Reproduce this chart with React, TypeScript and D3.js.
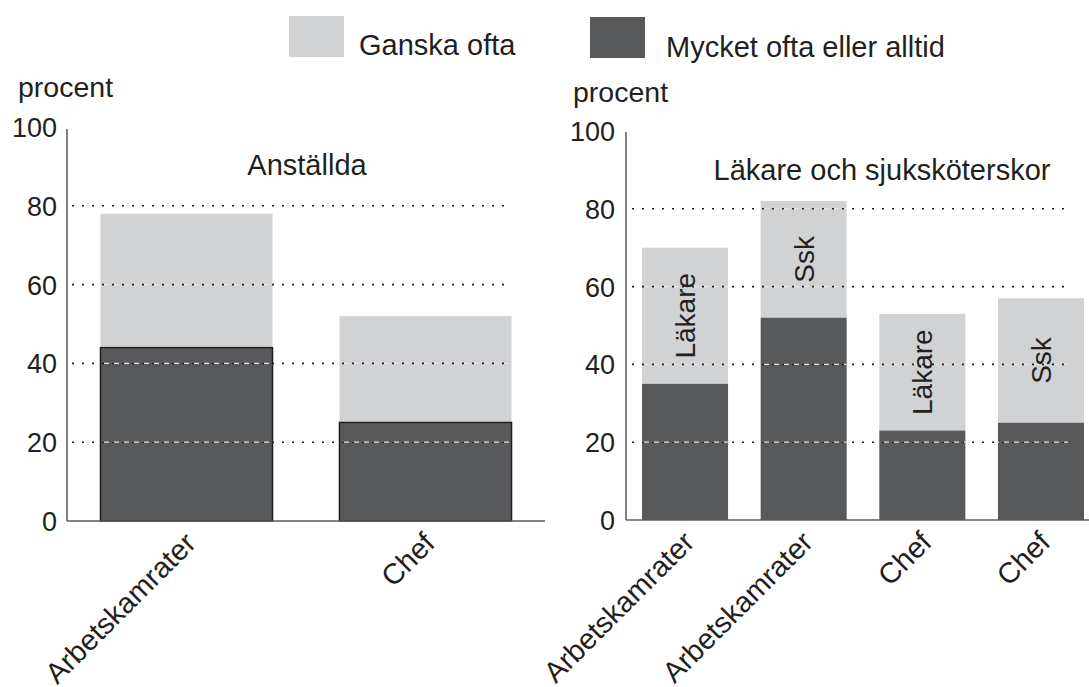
import React from "react";
import * as d3 from "d3";

// ---- Data ----
const leftTitle = "Anställda";
const rightTitle = "Läkare och sjuksköterskor";
const leftCategories = ["Arbetskamrater", "Chef"];
const leftMycket = [44, 25];
const leftGanska = [34, 27];

const rightCategories = ["Arbetskamrater", "Arbetskamrater", "Chef", "Chef"];
const rightGroups = ["Läkare", "Ssk", "Läkare", "Ssk"];
const rightMycket = [35, 52, 23, 25];
const rightGanska = [35, 30, 30, 32];

const yTicks = [0, 20, 40, 60, 80, 100];
const gridTicks = [20, 40, 60, 80];
const seriesNames = ["Ganska ofta", "Mycket ofta eller alltid"];

const LIGHT = "#d1d2d4";
const DARK = "#58595b";
const TEXT = "#231f20";
const AXIS = "#5a5a5a";
const FONT = "'Liberation Sans', Arial, Helvetica, sans-serif";

type PanelProps = {
  id: string;
  categories: string[];
  mycket: number[];
  ganska: number[];
  groups?: string[];
  xRange: [number, number];
  yRange: [number, number];
  paddingInner: number;
  paddingOuter: number;
  gridX: [number, number];
  tickX: number;
  procent: [number, number];
  title: string;
  titlePos: [number, number];
  outline: boolean;
  axisTop: number;
};

function Panel(p: PanelProps) {
  const idx = p.categories.map((_, i) => String(i));
  const x = d3
    .scaleBand<string>()
    .domain(idx)
    .range(p.xRange)
    .paddingInner(p.paddingInner)
    .paddingOuter(p.paddingOuter);
  const y = d3.scaleLinear().domain([0, 100]).range(p.yRange);
  const bw = x.bandwidth();
  const clipId = `bars-${p.id}`;
  return (
    <g>
      <defs>
        <clipPath id={clipId}>
          {idx.map((k, i) => (
            <rect
              key={k}
              x={x(k)!}
              y={y(p.mycket[i] + p.ganska[i])}
              width={bw}
              height={y(0) - y(p.mycket[i] + p.ganska[i])}
            />
          ))}
        </clipPath>
      </defs>
      {/* bars */}
      {idx.map((k, i) => (
        <g key={k}>
          <rect
            x={x(k)!}
            y={y(p.mycket[i] + p.ganska[i])}
            width={bw}
            height={y(p.mycket[i]) - y(p.mycket[i] + p.ganska[i])}
            fill={LIGHT}
          />
          <rect
            x={x(k)!}
            y={y(p.mycket[i])}
            width={bw}
            height={y(0) - y(p.mycket[i])}
            fill={DARK}
            stroke={p.outline ? TEXT : "none"}
            strokeWidth={p.outline ? 1.5 : 0}
          />
        </g>
      ))}
      {/* gridlines: light dashes over bars, dark dots everywhere */}
      <g clipPath={`url(#${clipId})`}>
        {gridTicks.map((t) => (
          <line
            key={t}
            x1={p.gridX[0]}
            x2={p.gridX[1]}
            y1={y(t)}
            y2={y(t)}
            stroke="#e4e4e4"
            strokeWidth={1.3}
            strokeDasharray="7,3"
          />
        ))}
      </g>
      {gridTicks.map((t) => (
        <line
          key={t}
          x1={p.gridX[0]}
          x2={p.gridX[1]}
          y1={y(t)}
          y2={y(t)}
          stroke={TEXT}
          strokeWidth={1.6}
          strokeDasharray="2,8"
        />
      ))}
      {/* in-bar group labels */}
      {p.groups &&
        idx.map((k, i) => {
          const cx = x(k)! + bw / 2 + 10;
          const cy = (y(p.mycket[i]) + y(p.mycket[i] + p.ganska[i])) / 2;
          return (
            <text
              key={k}
              transform={`translate(${cx},${cy}) rotate(-90)`}
              textAnchor="middle"
              fontSize={28}
              fill={TEXT}
              fontFamily={FONT}
            >
              {p.groups![i]}
            </text>
          );
        })}
      {/* axes */}
      <line x1={p.xRange[0]} x2={p.xRange[0]} y1={p.axisTop} y2={y(0)} stroke={AXIS} strokeWidth={1.5} />
      <line x1={p.xRange[0]} x2={p.xRange[1]} y1={y(0)} y2={y(0)} stroke={AXIS} strokeWidth={1.5} />
      {yTicks.map((t) => (
        <text
          key={t}
          x={p.tickX}
          y={y(t) + 10}
          textAnchor="end"
          fontSize={27}
          fill={TEXT}
          fontFamily={FONT}
        >
          {t}
        </text>
      ))}
      {idx.map((k, i) => {
        const ax = x(k)! + bw / 2 + 11;
        const ay = y(0) + 24;
        return (
          <text
            key={k}
            transform={`translate(${ax},${ay}) rotate(-45)`}
            textAnchor="end"
            fontSize={29}
            fill={TEXT}
            fontFamily={FONT}
          >
            {p.categories[i]}
          </text>
        );
      })}
      <text x={p.procent[0]} y={p.procent[1]} fontSize={28.5} fill={TEXT} fontFamily={FONT}>
        procent
      </text>
      <text
        x={p.titlePos[0]}
        y={p.titlePos[1]}
        textAnchor="middle"
        fontSize={29}
        fill={TEXT}
        fontFamily={FONT}
      >
        {p.title}
      </text>
    </g>
  );
}

export default function App() {
  return (
    <svg
      width={1089}
      height={687}
      style={{ position: "absolute", left: 0, top: 0, background: "#fff" }}
    >
      <rect x={0} y={0} width={1089} height={687} fill="#fff" />
      {/* legend */}
      <rect x={289} y={16} width={55} height={41} fill={LIGHT} />
      <text x={359} y={55} fontSize={29} fill={TEXT} fontFamily={FONT}>
        {seriesNames[0]}
      </text>
      <rect x={590} y={17} width={55} height={41} fill={DARK} />
      <text x={666} y={57} fontSize={29} fill={TEXT} fontFamily={FONT}>
        {seriesNames[1]}
      </text>
      <Panel
        id="left"
        categories={leftCategories}
        mycket={leftMycket}
        ganska={leftGanska}
        xRange={[67, 545]}
        yRange={[521, 127]}
        paddingInner={0.28}
        paddingOuter={0.14}
        gridX={[72, 512]}
        tickX={57}
        procent={[18, 97]}
        title={leftTitle}
        titlePos={[307, 175]}
        outline={true}
        axisTop={129}
      />
      <Panel
        id="right"
        categories={rightCategories}
        mycket={rightMycket}
        ganska={rightGanska}
        groups={rightGroups}
        xRange={[626, 1100]}
        yRange={[520, 131]}
        paddingInner={0.275}
        paddingOuter={0.135}
        gridX={[632, 1068]}
        tickX={615}
        procent={[573, 102]}
        title={rightTitle}
        titlePos={[882, 180]}
        outline={false}
        axisTop={132}
      />
    </svg>
  );
}
